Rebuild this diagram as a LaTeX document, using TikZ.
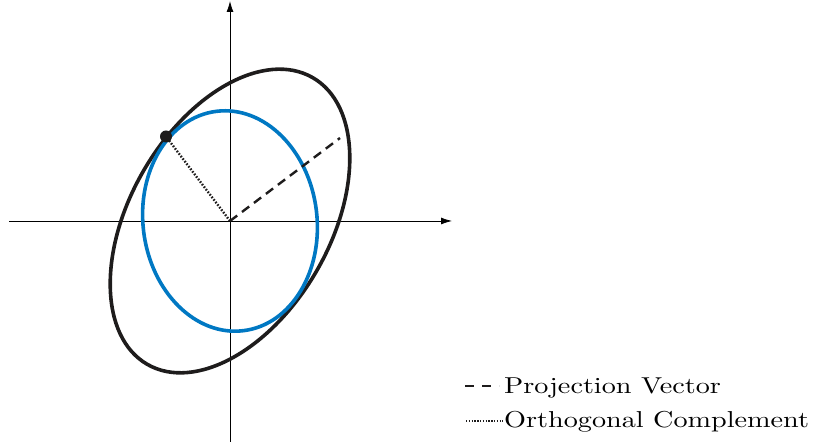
\documentclass[tikz,border=0pt]{standalone}
\usetikzlibrary{arrows.meta}
\definecolor{myblue}{RGB}{0,120,195}
\definecolor{myblack}{RGB}{30,28,28}
\begin{document}
\begin{tikzpicture}[x=1pt,y=1pt,
  axis/.style={line width=0.8pt,-{Latex[length=11pt,width=7pt]}},
  bigell/.style={draw=myblack,line width=3.6pt},
  smallell/.style={draw=myblue,line width=3.6pt},
  projline/.style={line width=2.4pt,dash pattern=on 9pt off 6pt,myblack},
  orthline/.style={line width=2.4pt,dash pattern=on 1.6pt off 1.6pt,myblack},
  legtext/.style={anchor=base west,inner sep=0pt,font=\fontsize{10}{12}\selectfont}]
\useasboundingbox (0,0) rectangle (818,446);
\coordinate (O) at (230,225);
\coordinate (xs) at (9,225);
\coordinate (xe) at (452,225);
\coordinate (ys) at (230,4);
\coordinate (ye) at (230,445);
\draw[axis] (xs) -- (xe);
\draw[axis] (ys) -- (ye);
\draw[bigell,rotate around={60:(O)}] (O) ellipse [x radius=165.5, y radius=100];
\draw[smallell,rotate around={97:(O)}] (O) ellipse [x radius=110.5, y radius=87];
\coordinate (P) at (340,308);
\node[circle,fill=myblack,inner sep=0pt,minimum size=12pt] (D) at (166,309.5) {};
\draw[projline] (O) -- (P);
\draw[orthline] (O) -- (D.center);
% legend
\coordinate (l1a) at (465,60);
\coordinate (l1b) at (499,60);
\coordinate (l2a) at (466,25);
\coordinate (l2b) at (503,25);
\draw[projline,dash pattern=on 9pt off 8pt] (l1a) -- (l1b);
\draw[line width=2pt,dash pattern=on 1.4pt off 1.4pt,myblack] (l2a) -- (l2b);
\node[legtext] (t1) at (504,52) {\scalebox{2.82}[2.3]{Projection Vector}};
\node[legtext] (t2) at (504,18) {\scalebox{2.82}[2.3]{Orthogonal Complement}};
\end{tikzpicture}
\end{document}
